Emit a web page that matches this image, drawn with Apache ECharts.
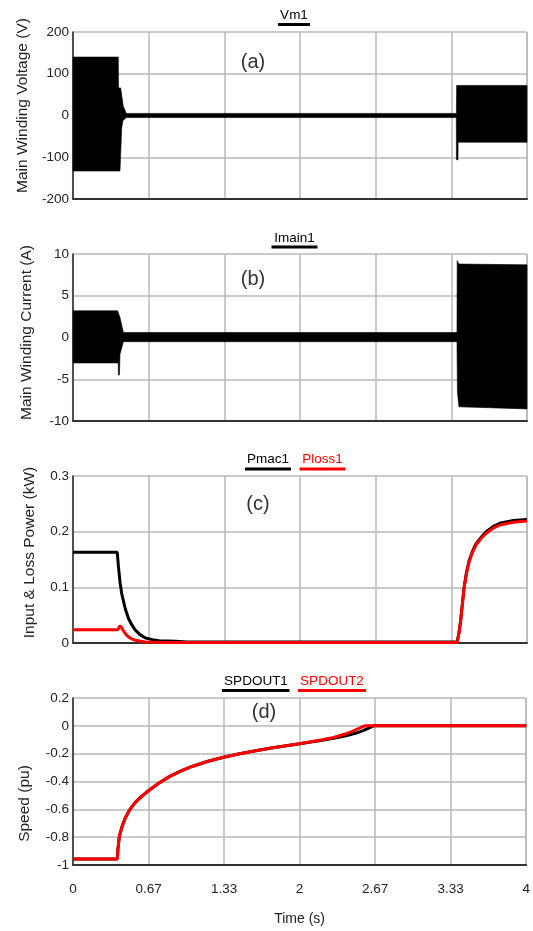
<!DOCTYPE html>
<html>
<head>
<meta charset="utf-8">
<title>Motor start-up waveforms</title>
<script src="https://cdn.jsdelivr.net/npm/echarts@6/dist/echarts.min.js"></script>
<style>
  html, body { margin: 0; padding: 0; background: #fff; }
  #chart { width: 533px; height: 931px; }
</style>
</head>
<body>
<div id="chart"></div>
<script>
// tick labels of the shared time axis
var xTickLabels = ['0', '0.67', '1.33', '2', '2.67', '3.33', '4']

// (a) main winding voltage, envelope of the switching waveform [t, V]
var vmUpper = [[0, 140], [0.399, 140], [0.401, 66], [0.42, 66], [0.443, 22], [0.47, 5], [3.378, 5], [3.38, 72], [4, 72]]
var vmLower = [[0, -133], [0.414, -133], [0.429, -30], [0.44, -12], [0.47, -5], [3.377, -5], [3.378, -106], [3.392, -106], [3.393, -64], [4, -64]]

// (b) main winding current envelope [t, A]
var imUpper = [[0, 3.2], [0.393, 3.2], [0.414, 2.4], [0.444, 0.6], [3.383, 0.6], [3.385, 9.2], [3.40, 8.8], [4, 8.7]]
var imLower = [[0, -3.05], [0.398, -3.05], [0.400, -4.5], [0.409, -4.5], [0.414, -2.0], [0.444, -0.5], [3.383, -0.5], [3.387, -6.5], [3.40, -8.3], [4, -8.55]]

// (c) input & loss power [t, kW]
var pmac1 = [[0, 0.163], [0.39, 0.163], [0.40, 0.138], [0.415, 0.108], [0.43, 0.088], [0.46, 0.062], [0.489, 0.044], [0.52, 0.032], [0.549, 0.023], [0.59, 0.015], [0.639, 0.009], [0.70, 0.006], [0.759, 0.004], [0.9, 0.003], [1.0, 0.002], [3.385, 0.002], [3.40, 0.018], [3.415, 0.040], [3.43, 0.07], [3.445, 0.099], [3.465, 0.125], [3.49, 0.148], [3.52, 0.165], [3.55, 0.178], [3.60, 0.191], [3.64, 0.200], [3.70, 0.209], [3.76, 0.215], [3.88, 0.220], [4.0, 0.222]]
var ploss1 = [[0, 0.024], [0.395, 0.024], [0.40, 0.027], [0.414, 0.031], [0.43, 0.027], [0.444, 0.022], [0.465, 0.016], [0.489, 0.011], [0.52, 0.007], [0.549, 0.005], [0.60, 0.003], [0.639, 0.002], [0.8, 0.001], [3.385, 0.001], [3.40, 0.017], [3.415, 0.038], [3.43, 0.068], [3.445, 0.097], [3.465, 0.123], [3.49, 0.146], [3.52, 0.163], [3.55, 0.176], [3.60, 0.189], [3.64, 0.197], [3.70, 0.206], [3.76, 0.212], [3.88, 0.217], [4.0, 0.219]]

// (d) speed [t, pu]
var spdout1 = [[0, -0.957], [0.392, -0.957], [0.395, -0.9], [0.408, -0.8], [0.43, -0.73], [0.46, -0.665], [0.495, -0.61], [0.55, -0.55], [0.60, -0.51], [0.66, -0.47], [0.753, -0.415], [0.85, -0.365], [0.95, -0.325], [1.05, -0.292], [1.2, -0.253], [1.33, -0.226], [1.46, -0.202], [1.6, -0.181], [1.75, -0.16], [2.0, -0.128], [2.2, -0.103], [2.3, -0.089], [2.41, -0.071], [2.5, -0.052], [2.56, -0.034], [2.62, -0.013], [2.65, 0], [4, 0]]
var spdout2 = [[0, -0.957], [0.392, -0.957], [0.395, -0.9], [0.408, -0.8], [0.43, -0.73], [0.46, -0.665], [0.495, -0.61], [0.55, -0.55], [0.60, -0.51], [0.66, -0.47], [0.753, -0.415], [0.85, -0.365], [0.95, -0.325], [1.05, -0.292], [1.2, -0.253], [1.33, -0.226], [1.46, -0.202], [1.6, -0.181], [1.75, -0.16], [2.0, -0.128], [2.2, -0.1], [2.3, -0.084], [2.41, -0.057], [2.46, -0.042], [2.5, -0.027], [2.54, -0.012], [2.575, 0], [4, 0]]

var FONT = '"Liberation Sans", Arial, sans-serif'
var GRID_TOPS = [32, 254, 476, 698]
var PLOT_H = 167

var chart = echarts.init(document.getElementById('chart'))

function round (v) {
  return String(Math.round(v * 1000) / 1000)
}

var grids = GRID_TOPS.map(function (top) {
  return { left: 73, right: 6, top: top, height: PLOT_H }
})

var xAxes = GRID_TOPS.map(function (top, i) {
  return {
    type: 'value',
    gridIndex: i,
    min: 0,
    max: 4,
    interval: 2 / 3,
    name: i === 3 ? 'Time (s)' : '',
    nameLocation: 'middle',
    nameGap: 47,
    nameTextStyle: { fontFamily: FONT, fontSize: 14, color: '#222' },
    axisLine: { show: true, onZero: false, lineStyle: { color: '#333', width: 2 } },
    axisTick: { show: false },
    axisLabel: {
      show: i === 3,
      margin: 17,
      fontFamily: FONT,
      fontSize: 13.5,
      color: '#222',
      formatter: function (v) { return xTickLabels[Math.round(v * 1.5)] }
    },
    splitLine: { show: true, lineStyle: { color: '#b8b8b8', width: 1.5 } }
  }
})

// pad shifts the rotated axis title along the axis (left pad = up, right pad = down)
var yDefs = [
  { name: 'Main Winding Voltage (V)', min: -200, max: 200, interval: 100, gap: 38, pad: [0, 0, 0, 20] },
  { name: 'Main Winding Current (A)', min: -10, max: 10, interval: 5, gap: 38, pad: [0, 0, 0, 10] },
  { name: 'Input & Loss Power (kW)', min: 0, max: 0.3, interval: 0.1, gap: 35, pad: [0, 0, 0, 14] },
  { name: 'Speed (pu)', min: -1, max: 0.2, interval: 0.2, gap: 40, pad: [0, 44, 0, 0] }
]

var yAxes = yDefs.map(function (d, i) {
  return {
    type: 'value',
    gridIndex: i,
    min: d.min,
    max: d.max,
    interval: d.interval,
    name: d.name,
    nameLocation: 'middle',
    nameGap: d.gap,
    nameTextStyle: { fontFamily: FONT, fontSize: 15.5, color: '#222', padding: d.pad },
    axisLine: { show: true, onZero: false, lineStyle: { color: '#302020', width: 1.5 } },
    axisTick: { show: false },
    axisLabel: { margin: 4, fontFamily: FONT, fontSize: 13.5, color: '#222', formatter: round },
    splitLine: { show: true, lineStyle: { color: '#b8b8b8', width: 1.5 } }
  }
})

// filled band between an upper and a lower envelope, placed via the axes
function band (upper, lower, idx) {
  return {
    type: 'custom',
    xAxisIndex: idx,
    yAxisIndex: idx,
    silent: true,
    data: upper,
    renderItem: function (params, api) {
      if (params.dataIndex !== 0) return null
      var pts = upper.map(function (p) { return api.coord(p) })
      var low = lower.slice().reverse().map(function (p) { return api.coord(p) })
      return {
        type: 'polygon',
        shape: { points: pts.concat(low) },
        style: { fill: '#000', stroke: '#000', lineWidth: 0.6 }
      }
    }
  }
}

function trace (data, idx, color) {
  return {
    type: 'line',
    xAxisIndex: idx,
    yAxisIndex: idx,
    data: data,
    symbol: 'none',
    silent: true,
    lineStyle: { color: color, width: 3 }
  }
}

// legend captions with underline + panel letters
function caption (text, cx, cy, color, x1, x2, ly) {
  return [
    { type: 'text', style: { text: text, x: cx, y: cy, fill: color, font: '13.5px ' + FONT, align: 'center', verticalAlign: 'middle' } },
    { type: 'rect', shape: { x: x1, y: ly - 1.5, width: x2 - x1, height: 3 }, style: { fill: color } }
  ]
}

function letter (text, cx, cy) {
  return { type: 'text', style: { text: text, x: cx, y: cy, fill: '#333', font: '20px ' + FONT, align: 'center', verticalAlign: 'middle' } }
}

var graphics = [].concat(
  caption('Vm1', 294, 15, '#000', 278, 310, 24.5),
  caption('Imain1', 294.5, 238, '#000', 271.5, 317.5, 247),
  caption('Pmac1', 268, 459, '#000', 245, 291, 469),
  caption('Ploss1', 322.5, 459, '#ff0000', 299.5, 345.5, 469),
  caption('SPDOUT1', 256, 681.5, '#000', 222, 289.5, 690.5),
  caption('SPDOUT2', 332, 681.5, '#ff0000', 298, 366, 690.5),
  [letter('(a)', 253, 62), letter('(b)', 253, 279), letter('(c)', 258, 504), letter('(d)', 264, 712)]
)

chart.setOption({
  animation: false,
  backgroundColor: '#fff',
  grid: grids,
  xAxis: xAxes,
  yAxis: yAxes,
  graphic: graphics,
  series: [
    band(vmUpper, vmLower, 0),
    band(imUpper, imLower, 1),
    trace(pmac1, 2, '#000'),
    trace(ploss1, 2, '#ff0000'),
    trace(spdout1, 3, '#000'),
    trace(spdout2, 3, '#ff0000')
  ]
})
</script>
</body>
</html>
